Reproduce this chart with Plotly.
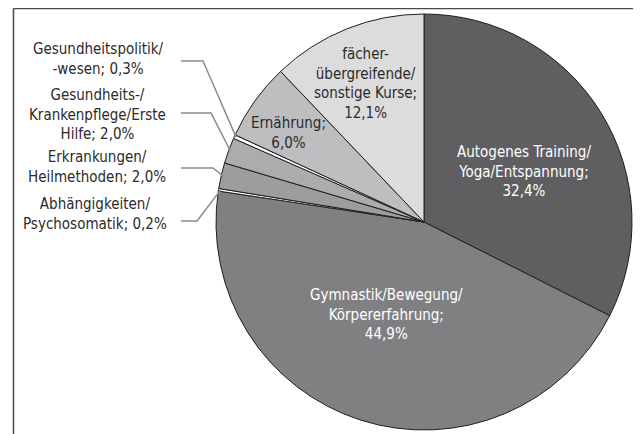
import numpy as np
import plotly.graph_objects as go

# ---- data ----
categories = [
    "Autogenes Training/<br>Yoga/Entspannung;",
    "Gymnastik/Bewegung/<br>Körpererfahrung;",
    "Abhängigkeiten/<br>Psychosomatik;",
    "Erkrankungen/<br>Heilmethoden;",
    "Gesundheits-/<br>Krankenpflege/Erste<br>Hilfe;",
    "Gesundheitspolitik/<br>-wesen;",
    "Ernährung;",
    "fächer-<br>übergreifende/<br>sonstige Kurse;",
]
values = [32.4, 44.9, 0.2, 2.0, 2.0, 0.3, 6.0, 12.1]
inside = [True, True, False, False, False, False, True, True]

# ---- styles ----
colors = ["#5f5f61", "#808083", "#ffffff", "#9d9d9f", "#acacae", "#ffffff", "#bebec0", "#dcdcdd"]
text_colors = ["#ffffff", "#ffffff", "#2b2b2b", "#2b2b2b", "#2b2b2b", "#2b2b2b", "#2b2b2b", "#2b2b2b"]
# inside label placement: (radius fraction, angle offset in degrees)
inside_pos = {0: (0.54, 5.0), 1: (0.48, 4.5), 6: (0.78, -2.5), 7: (0.72, -1.0)}
# outside labels (window px): (text centre x, text centre y, leader y, elbow x)
outside_pos = {2: (95, 214, 221, 197), 3: (97, 167, 168, 213),
               4: (97, 114, 113, 211), 5: (98, 59, 61, 203)}

W, H = 641, 434
OFF = 8  # page body margin offset
CX, CY, R = 424 - OFF, 222 - OFF, 208
FONT = "DejaVu Sans Condensed"
FS = 15

fig = go.Figure()
fig.add_trace(go.Pie(
    labels=[c.replace("<br>", " ") for c in categories],
    values=values,
    sort=False,
    direction="clockwise",
    rotation=0,
    textinfo="none",
    hoverinfo="label+percent",
    marker=dict(colors=colors, line=dict(color="#1e1e1e", width=1)),
    domain=dict(x=[(CX - R) / W, (CX + R) / W], y=[(H - CY - R) / H, (H - CY + R) / H]),
    showlegend=False,
))

vals = np.array(values, dtype=float)
frac = vals / vals.sum()
cum = np.cumsum(frac)
mid = (cum - frac / 2) * 360.0

annotations = []
shapes = []

for i, cat in enumerate(categories):
    pct = f"{values[i]:.1f}".replace(".", ",") + "%"
    a = mid[i]
    if inside[i]:
        text = cat + "<br>" + pct
        fr, off = inside_pos[i]
        ang = np.radians(a + off)
        x = CX + fr * R * np.sin(ang)
        y = CY - fr * R * np.cos(ang)
    else:
        text = cat + " " + pct
        tx, ty, ly, ex = outside_pos[i]
        x, y, ly, ex = tx - OFF, ty - OFF, ly - OFF, ex - OFF
        ang = np.radians(a)
        px = CX + (R - 2) * np.sin(ang)
        py = CY - (R - 2) * np.cos(ang)
        shapes.append(dict(type="path", xref="x", yref="y",
                           path=f"M {181 - OFF},{ly} L {ex},{ly} L {px:.1f},{py:.1f}",
                           line=dict(color="#8c8c8c", width=1.5)))
    annotations.append(dict(x=x, y=y, xref="x", yref="y", text=text, showarrow=False,
                            align="center", xanchor="center", yanchor="middle",
                            font=dict(family=FONT, size=FS, color=text_colors[i])))

# frame
fx, fy = 13.5 - OFF, 8.5 - OFF
shapes.append(dict(type="line", xref="x", yref="y", x0=fx, y0=fy, x1=fx, y1=H,
                   line=dict(color="#4a4a4a", width=1.5)))
shapes.append(dict(type="line", xref="x", yref="y", x0=fx, y0=fy, x1=W, y1=fy,
                   line=dict(color="#4a4a4a", width=1.5)))

fig.update_layout(
    width=W, height=H,
    margin=dict(l=0, r=0, t=0, b=0),
    paper_bgcolor="white", plot_bgcolor="rgba(0,0,0,0)",
    xaxis=dict(range=[0, W], visible=False, fixedrange=True),
    yaxis=dict(range=[H, 0], visible=False, fixedrange=True),
    annotations=annotations,
    shapes=shapes,
    font=dict(family=FONT),
)

fig.write_html("out.html")
